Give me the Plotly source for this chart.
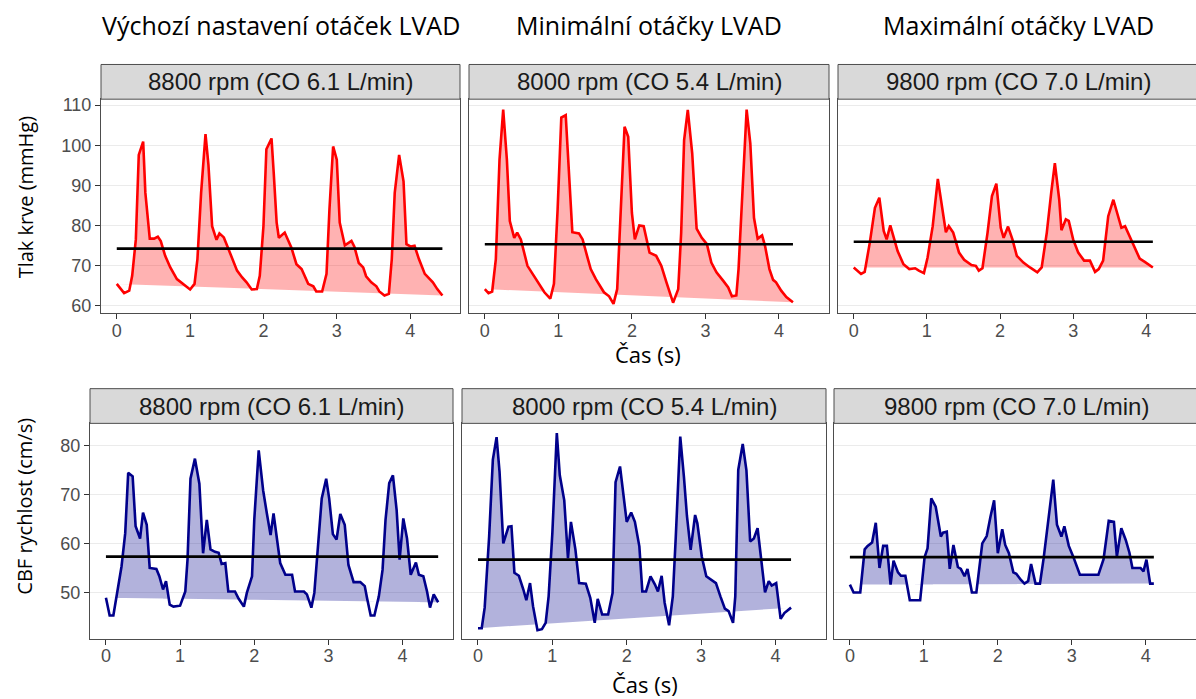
import plotly.graph_objects as go
import numpy as np

W, H = 1196, 699

# ---------------- data ----------------
col_titles = ["Výchozí nastavení otáček LVAD", "Minimální otáčky LVAD", "Maximální otáčky LVAD"]
strip_labels = ["8800 rpm (CO 6.1 L/min)", "8000 rpm (CO 5.4 L/min)", "9800 rpm (CO 7.0 L/min)"]
x_ticks = [0, 1, 2, 3, 4]
y_ticks_tlak = [60, 70, 80, 90, 100, 110]
y_ticks_cbf = [50, 60, 70, 80]

# Blood pressure, 8800 rpm
t_tlak_8800 = [0, 0.10, 0.17, 0.21, 0.26, 0.30, 0.36, 0.39, 0.45, 0.51, 0.56, 0.60, 0.66, 0.73, 0.82, 0.91,
               1.00, 1.06, 1.10, 1.15, 1.21, 1.25, 1.30, 1.36, 1.40, 1.46, 1.51, 1.57, 1.64, 1.71, 1.77, 1.84,
               1.91, 1.95, 2.00, 2.04, 2.11, 2.14, 2.18, 2.21, 2.29, 2.38, 2.45, 2.52, 2.61, 2.68, 2.72, 2.80,
               2.86, 2.90, 2.95, 3.00, 3.04, 3.11, 3.20, 3.24, 3.30, 3.36, 3.40, 3.47, 3.54, 3.58, 3.65, 3.71,
               3.75, 3.79, 3.85, 3.91, 3.95, 4.01, 4.06, 4.12, 4.20, 4.31, 4.37, 4.44]
tlak_8800 = [65.4, 63.1, 63.7, 67.4, 76.5, 97.6, 100.9, 88.1, 76.7, 76.7, 77.2, 76.1, 72.4, 69.5, 66.6, 65.4,
             64.0, 65.4, 71.6, 88.1, 102.8, 95.1, 79.8, 76.4, 78.0, 77.0, 74.7, 71.6, 68.7, 67.0, 65.8, 64.0,
             64.1, 67.4, 79.8, 99.0, 101.7, 93.1, 80.7, 76.9, 78.2, 74.5, 70.3, 69.1, 65.4, 64.8, 63.5, 63.5,
             67.9, 84.0, 99.7, 96.4, 80.7, 75.0, 76.1, 74.7, 70.6, 69.5, 67.3, 65.8, 64.8, 63.5, 62.5, 62.9,
             71.6, 88.1, 97.6, 91.0, 75.3, 74.7, 74.9, 71.6, 67.9, 65.8, 64.1, 62.5]

# Blood pressure, 8000 rpm
t_tlak_8000 = [0, 0.05, 0.10, 0.15, 0.20, 0.25, 0.30, 0.34, 0.40, 0.44, 0.49, 0.54, 0.58, 0.65, 0.72, 0.81,
               0.89, 0.94, 0.99, 1.04, 1.10, 1.15, 1.19, 1.28, 1.33, 1.39, 1.44, 1.51, 1.58, 1.62, 1.69, 1.75,
               1.80, 1.84, 1.90, 1.95, 2.00, 2.04, 2.10, 2.16, 2.24, 2.33, 2.40, 2.47, 2.56, 2.63, 2.67, 2.71,
               2.76, 2.82, 2.88, 2.95, 3.02, 3.08, 3.15, 3.24, 3.31, 3.36, 3.42, 3.45, 3.50, 3.56, 3.61, 3.66,
               3.71, 3.77, 3.81, 3.87, 3.92, 3.96, 4.03, 4.10, 4.19]
tlak_8000 = [64.1, 63.1, 63.5, 71.6, 96.4, 108.9, 96.4, 81.1, 76.9, 78.2, 76.5, 72.4, 69.9, 67.9, 65.8, 63.3,
             61.7, 65.4, 84.0, 106.9, 107.5, 91.4, 78.3, 78.0, 76.5, 72.4, 69.1, 66.6, 64.5, 63.3, 62.3, 60.4,
             64.1, 81.5, 104.6, 102.1, 83.1, 76.5, 80.0, 79.8, 73.2, 72.4, 69.9, 65.8, 60.7, 64.1, 78.2, 101.3,
             108.8, 98.0, 79.2, 76.9, 75.3, 70.7, 68.3, 66.2, 64.5, 62.3, 62.5, 69.1, 88.1, 108.9, 100.5, 81.9,
             76.7, 77.5, 74.9, 69.1, 66.4, 65.8, 63.7, 62.1, 60.8]

# Blood pressure, 9800 rpm
t_tlak_9800 = [0, 0.10, 0.15, 0.22, 0.29, 0.35, 0.41, 0.45, 0.50, 0.54, 0.60, 0.68, 0.76, 0.84, 0.89, 0.96,
               1.01, 1.08, 1.15, 1.26, 1.30, 1.36, 1.44, 1.51, 1.61, 1.67, 1.71, 1.76, 1.83, 1.89, 1.95, 2.01,
               2.05, 2.11, 2.17, 2.23, 2.32, 2.41, 2.51, 2.57, 2.64, 2.70, 2.75, 2.81, 2.84, 2.90, 2.94, 3.00,
               3.07, 3.15, 3.23, 3.30, 3.35, 3.41, 3.48, 3.55, 3.61, 3.66, 3.71, 3.77, 3.83, 3.91, 3.98, 4.09]
tlak_9800 = [69.5, 67.9, 68.4, 75.7, 84.4, 86.9, 78.6, 76.5, 80.0, 77.4, 73.6, 70.3, 69.1, 69.3, 68.7, 68.1,
             72.0, 79.8, 91.6, 78.3, 79.8, 78.2, 73.2, 71.4, 70.1, 69.9, 68.7, 69.3, 78.2, 87.3, 90.4, 79.4,
             76.9, 79.7, 76.5, 72.4, 70.7, 69.5, 68.3, 69.5, 78.2, 88.1, 95.5, 86.4, 78.8, 81.5, 81.1, 76.5,
             73.2, 71.2, 71.2, 68.4, 69.1, 71.2, 82.3, 86.4, 82.3, 79.4, 79.8, 77.4, 74.9, 71.7, 70.9, 69.5]

# CBF velocity, 8800 rpm
t_cbf_8800 = [0, 0.05, 0.10, 0.14, 0.21, 0.26, 0.30, 0.36, 0.40, 0.46, 0.50, 0.55, 0.59, 0.68, 0.72, 0.77,
              0.81, 0.86, 0.91, 1.00, 1.07, 1.10, 1.14, 1.20, 1.26, 1.31, 1.36, 1.41, 1.47, 1.52, 1.56, 1.61,
              1.65, 1.74, 1.79, 1.86, 1.90, 1.97, 2.00, 2.06, 2.12, 2.17, 2.22, 2.26, 2.35, 2.42, 2.51, 2.55,
              2.67, 2.71, 2.77, 2.81, 2.87, 2.91, 2.97, 3.01, 3.06, 3.11, 3.16, 3.22, 3.27, 3.34, 3.43, 3.49,
              3.52, 3.57, 3.62, 3.68, 3.73, 3.77, 3.82, 3.87, 3.92, 3.96, 4.01, 4.06, 4.11, 4.18, 4.22, 4.28,
              4.33, 4.37, 4.42, 4.48]
cbf_8800 = [49.0, 45.4, 45.4, 49.3, 55.4, 62.2, 74.5, 73.8, 63.6, 61.1, 66.4, 63.9, 55.1, 54.9, 53.4, 50.7,
            52.4, 47.6, 47.2, 47.4, 50.3, 56.8, 73.3, 77.4, 72.3, 58.1, 64.9, 58.9, 58.4, 58.2, 55.9, 56.1,
            50.3, 50.3, 48.8, 47.2, 50.0, 53.4, 64.9, 79.1, 70.9, 66.2, 61.8, 66.2, 56.1, 53.7, 53.7, 50.3,
            50.3, 49.7, 47.0, 50.0, 62.8, 69.3, 73.3, 69.3, 62.0, 60.9, 66.1, 63.9, 55.7, 52.2, 52.2, 51.4,
            49.0, 45.4, 45.4, 49.3, 54.7, 64.9, 72.4, 74.0, 66.9, 56.8, 65.2, 61.1, 53.7, 56.2, 53.7, 53.4,
            50.3, 47.0, 49.7, 48.1]

# CBF velocity, 8000 rpm
t_cbf_8000 = [0, 0.05, 0.09, 0.15, 0.20, 0.25, 0.29, 0.34, 0.41, 0.45, 0.49, 0.55, 0.61, 0.65, 0.70, 0.74,
              0.80, 0.86, 0.91, 0.95, 1.00, 1.06, 1.10, 1.16, 1.21, 1.25, 1.31, 1.36, 1.45, 1.51, 1.57, 1.61,
              1.67, 1.75, 1.81, 1.85, 1.91, 1.97, 2.00, 2.06, 2.11, 2.17, 2.21, 2.26, 2.32, 2.38, 2.42, 2.47,
              2.51, 2.57, 2.62, 2.66, 2.72, 2.77, 2.81, 2.86, 2.92, 2.95, 3.01, 3.07, 3.13, 3.20, 3.26, 3.32,
              3.37, 3.43, 3.46, 3.50, 3.56, 3.61, 3.66, 3.71, 3.76, 3.82, 3.86, 3.91, 3.95, 4.01, 4.07, 4.12,
              4.21]
cbf_8000 = [42.8, 42.8, 47.0, 61.5, 77.2, 81.8, 74.7, 60.1, 63.5, 63.6, 54.1, 53.5, 50.7, 48.5, 52.0, 47.3,
            42.4, 42.6, 43.9, 49.3, 62.2, 82.6, 74.0, 68.9, 57.1, 64.5, 58.9, 52.0, 51.9, 49.0, 43.9, 48.8,
            45.6, 45.6, 50.0, 72.6, 75.8, 68.2, 64.5, 66.4, 64.5, 59.5, 50.3, 50.3, 53.4, 51.7, 50.3, 53.5,
            48.0, 43.4, 49.3, 61.5, 81.9, 73.6, 65.7, 58.8, 65.9, 64.2, 57.4, 53.4, 52.7, 52.0, 49.3, 46.8,
            46.3, 43.9, 49.3, 75.1, 80.4, 75.0, 60.5, 61.1, 63.2, 54.7, 50.1, 52.4, 51.5, 52.0, 44.7, 45.9,
            47.0]

# CBF velocity, 9800 rpm
t_cbf_9800 = [0, 0.05, 0.14, 0.20, 0.24, 0.30, 0.35, 0.40, 0.45, 0.50, 0.55, 0.59, 0.65, 0.69, 0.75, 0.81,
              0.95, 1.01, 1.05, 1.10, 1.16, 1.23, 1.26, 1.31, 1.35, 1.40, 1.46, 1.50, 1.55, 1.59, 1.65, 1.71,
              1.79, 1.85, 1.90, 1.95, 2.00, 2.06, 2.10, 2.15, 2.21, 2.25, 2.31, 2.36, 2.41, 2.45, 2.51, 2.57,
              2.62, 2.68, 2.75, 2.80, 2.86, 2.90, 2.96, 3.02, 3.11, 3.36, 3.43, 3.50, 3.57, 3.61, 3.67, 3.73,
              3.78, 3.82, 3.93, 3.97, 4.01, 4.06, 4.11]
cbf_9800 = [51.7, 50.1, 50.1, 58.9, 59.6, 60.3, 64.3, 55.1, 59.6, 59.6, 51.7, 56.6, 54.2, 53.5, 53.5, 48.5,
            48.5, 57.3, 59.1, 69.3, 67.6, 61.5, 62.3, 62.5, 54.9, 59.8, 55.3, 54.9, 53.4, 54.9, 50.1, 50.1,
            60.1, 61.6, 65.5, 68.9, 58.1, 63.0, 59.8, 58.1, 54.2, 53.9, 52.7, 51.9, 52.4, 55.9, 51.9, 51.9,
            57.1, 64.9, 73.1, 63.9, 61.5, 63.6, 59.6, 57.4, 53.7, 53.7, 56.9, 64.7, 64.5, 57.4, 63.2, 60.8,
            58.2, 55.1, 55.1, 54.4, 56.8, 51.9, 51.9]

# mean levels (horizontal black lines)
mean_tlak = [74.2, 75.3, 75.9]
mean_cbf = [57.4, 56.8, 57.3]

series_t = [t_tlak_8800, t_tlak_8000, t_tlak_9800, t_cbf_8800, t_cbf_8000, t_cbf_9800]
series_v = [tlak_8800, tlak_8000, tlak_9800, cbf_8800, cbf_8000, cbf_9800]
series_mean = mean_tlak + mean_cbf
for a, b in zip(series_t, series_v):
    assert len(a) == len(b), (len(a), len(b))

# ---------------- layout geometry (pixels) ----------------
top_x = [(101, 460), (469, 829), (838, 1196)]
bot_x = [(90, 453), (462, 826), (834, 1196)]
top_panel_y = (96, 312)
bot_panel_y = (423, 640)
top_strip_y = (61, 96)
bot_strip_y = (388, 423)

def px(p):
    return p / W

def py(p):
    return 1 - p / H

line_cols = ["#FF0000"] * 3 + ["#00008B"] * 3
fill_cols = ["rgba(255,0,0,0.30)"] * 3 + ["rgba(0,0,139,0.30)"] * 3

fig = go.Figure()
layout = {}
shapes = []
annotations = []

SANS = "Liberation Sans, Arial, sans-serif"
TICKFONT = dict(family=SANS, size=18, color="#4D4D4D")
BORDER = "#4D4D4D"

for i in range(6):
    row = i // 3
    col = i % 3
    ax = i + 1
    xref = "x" if ax == 1 else f"x{ax}"
    yref = "y" if ax == 1 else f"y{ax}"
    xs = (top_x if row == 0 else bot_x)[col]
    ys = top_panel_y if row == 0 else bot_panel_y
    ss = top_strip_y if row == 0 else bot_strip_y

    t = np.array(series_t[i], dtype=float)
    v = np.array(series_v[i], dtype=float)
    # ribbon: between straight line joining first/last sample and the curve (above it)
    base = v[0] + (v[-1] - v[0]) * (t - t[0]) / (t[-1] - t[0])
    tt, bb, uu = [], [], []
    for k in range(len(t)):
        if k > 0:
            d0 = v[k - 1] - base[k - 1]
            d1 = v[k] - base[k]
            if d0 * d1 < 0:
                f = d0 / (d0 - d1)
                tc = t[k - 1] + f * (t[k] - t[k - 1])
                bc = base[k - 1] + f * (base[k] - base[k - 1])
                tt.append(tc); bb.append(bc); uu.append(bc)
        tt.append(t[k]); bb.append(base[k]); uu.append(max(v[k], base[k]))

    fig.add_trace(go.Scatter(x=tt, y=bb, mode="lines", line=dict(width=0, color=fill_cols[i]),
                             xaxis=xref, yaxis=yref, showlegend=False, hoverinfo="skip"))
    fig.add_trace(go.Scatter(x=tt, y=uu, mode="lines", line=dict(width=0, color=fill_cols[i]),
                             fill="tonexty", fillcolor=fill_cols[i],
                             xaxis=xref, yaxis=yref, showlegend=False, hoverinfo="skip"))
    fig.add_trace(go.Scatter(x=t, y=v, mode="lines", line=dict(width=2.6, color=line_cols[i]),
                             xaxis=xref, yaxis=yref, showlegend=False))
    fig.add_trace(go.Scatter(x=[t[0], t[-1]], y=[series_mean[i]] * 2, mode="lines",
                             line=dict(width=2.6, color="black"),
                             xaxis=xref, yaxis=yref, showlegend=False))

    xkey = "xaxis" if ax == 1 else f"xaxis{ax}"
    ykey = "yaxis" if ax == 1 else f"yaxis{ax}"
    layout[xkey] = dict(
        domain=[px(xs[0]), px(xs[1])], anchor=yref, range=[-0.215, 4.68],
        tickvals=x_ticks, ticktext=[str(v_) for v_ in x_ticks], ticks="outside", ticklen=5,
        tickcolor="#333333", tickwidth=1, tickfont=TICKFONT, ticklabelstandoff=-4,
        showgrid=False, zeroline=False,
        showline=True, linecolor=BORDER, linewidth=1, mirror=True, fixedrange=True,
    )
    yt = y_ticks_tlak if row == 0 else y_ticks_cbf
    yr = [58.05, 111.5] if row == 0 else [40.7, 84.6]
    layout[ykey] = dict(
        domain=[py(ys[1]), py(ys[0])], anchor=xref, range=yr,
        tickvals=yt, ticktext=[str(v_) for v_ in yt],
        ticks="outside" if col == 0 else "", ticklen=5, tickcolor="#333333", tickwidth=1,
        showticklabels=(col == 0), tickfont=TICKFONT,
        showgrid=True, gridcolor="#EBEBEB", gridwidth=1, zeroline=False,
        showline=True, linecolor=BORDER, linewidth=1, mirror=(col != 2), fixedrange=True,
    )

    # strip
    shapes.append(dict(type="rect", xref="paper", yref="paper",
                       x0=px(xs[0]), x1=px(xs[1]) if col != 2 else 1.01,
                       y0=py(ss[1]), y1=py(ss[0]),
                       fillcolor="#D9D9D9", line=dict(color=BORDER, width=1), layer="above"))
    annotations.append(dict(text=strip_labels[col], xref="paper", yref="paper",
                            x=px((xs[0] + xs[1]) / 2 + (0 if col != 2 else 1)), y=py((ss[0] + ss[1]) / 2),
                            xanchor="center", yanchor="middle", showarrow=False,
                            font=dict(family=SANS, size=24, color="#1A1A1A")))

TITLE_FONT = dict(family="Open Sans, sans-serif", size=25, color="black")
XT_FONT = dict(family="Open Sans, sans-serif", size=22, color="black")
YT_FONT = dict(family="Open Sans, sans-serif", size=20, color="black")
for col in range(3):
    xs = top_x[col]
    annotations.append(dict(text=col_titles[col], xref="paper", yref="paper",
                            x=px((xs[0] + xs[1]) / 2 + (0 if col != 2 else 1)), y=py(21),
                            xanchor="center", yanchor="middle", showarrow=False, font=TITLE_FONT))

annotations.append(dict(text="Čas (s)", xref="paper", yref="paper", x=px(648), y=py(353),
                        xanchor="center", yanchor="middle", showarrow=False, font=XT_FONT))
annotations.append(dict(text="Čas (s)", xref="paper", yref="paper", x=px(645), y=py(686),
                        xanchor="center", yanchor="middle", showarrow=False, font=XT_FONT))
annotations.append(dict(text="Tlak krve (mmHg)", xref="paper", yref="paper", x=px(25), y=py(195),
                        xanchor="center", yanchor="middle", showarrow=False, textangle=-90, font=YT_FONT))
annotations.append(dict(text="CBF rychlost (cm/s)", xref="paper", yref="paper", x=px(25), y=py(507),
                        xanchor="center", yanchor="middle", showarrow=False, textangle=-90, font=YT_FONT))

fig.update_layout(
    width=W, height=H, autosize=False,
    margin=dict(l=0, r=0, t=0, b=0, pad=0),
    paper_bgcolor="white", plot_bgcolor="white",
    showlegend=False, shapes=shapes, annotations=annotations,
    **layout,
)

fig.write_html(
    "out.html",
    config={"displayModeBar": False},
    post_script="document.body.style.margin='0';document.body.style.overflow='hidden';"
                "document.documentElement.style.overflow='hidden';",
)
